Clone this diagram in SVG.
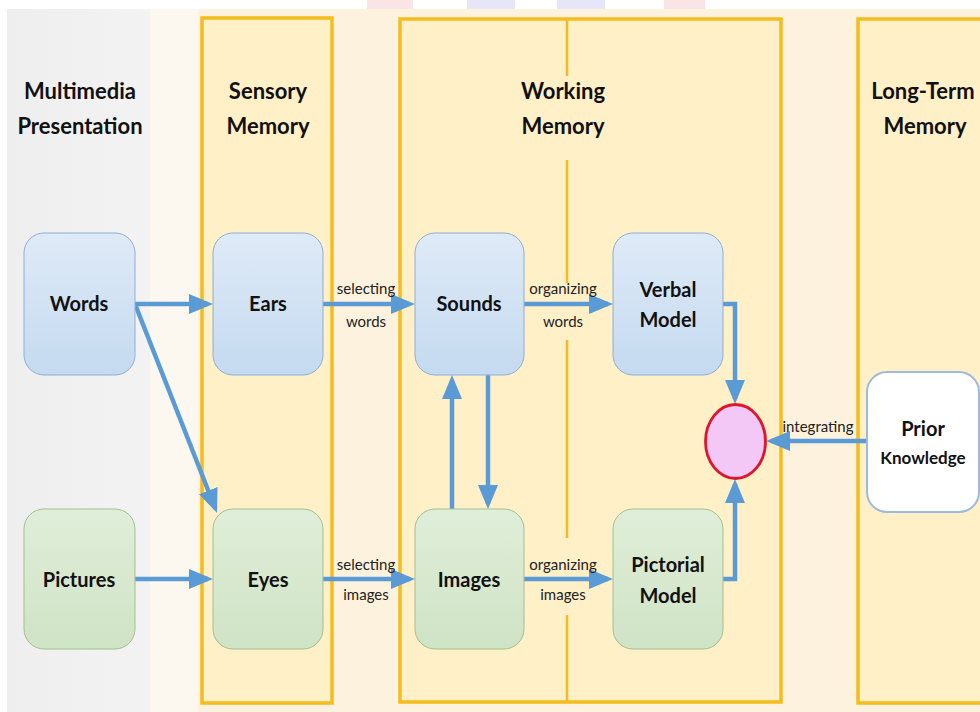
<svg xmlns="http://www.w3.org/2000/svg" width="980" height="712" viewBox="0 0 980 712">
<style>
.h{font-family:Lato,"Liberation Sans",sans-serif;font-weight:bold;font-size:22px;fill:#111;text-anchor:middle}
.n{font-family:Lato,"Liberation Sans",sans-serif;font-weight:bold;font-size:20px;fill:#111;text-anchor:middle}
.l{font-family:Lato,"Liberation Sans",sans-serif;font-size:15px;fill:#222;text-anchor:middle}
.col{fill:#fff0c8;stroke:#f4bc1c;stroke-width:3.5}
.blue{fill:url(#gb);stroke:#8eaed3;stroke-width:1}
.green{fill:url(#gg);stroke:#a3bf90;stroke-width:1}
.c{fill:none;stroke:#5b9bd5;stroke-width:4.5;marker-end:url(#ah)}
.div{stroke:#f4bc1c;stroke-width:2.5}
</style>
<defs>
<linearGradient id="gb" x1="0" y1="0" x2="0" y2="1"><stop offset="0" stop-color="#dfeaf7"/><stop offset="1" stop-color="#c4daf0"/></linearGradient>
<linearGradient id="gg" x1="0" y1="0" x2="0" y2="1"><stop offset="0" stop-color="#e0eed9"/><stop offset="1" stop-color="#cfe3c5"/></linearGradient>
<linearGradient id="gray" x1="0" y1="0" x2="1" y2="0"><stop offset="0" stop-color="#eeeeee"/><stop offset="1" stop-color="#f3f3f3"/></linearGradient>
<marker id="ah" markerUnits="userSpaceOnUse" markerWidth="24" markerHeight="20" refX="19" refY="10" orient="auto"><path d="M0,0 L24,10 L0,20 z" fill="#5b9bd5"/></marker>
</defs>
<g id="background">
<rect x="0" y="0" width="980" height="712" fill="#ffffff"/>
<rect x="150" y="9" width="830" height="703" fill="#fdf2de"/>
<rect x="150" y="9" width="48" height="703" fill="#fdf8ef"/>
<rect x="7" y="9" width="143" height="703" fill="url(#gray)"/>
<rect x="367" y="0" width="46" height="9" fill="#fae4e6"/>
<rect x="467" y="0" width="48" height="9" fill="#e6e6f8"/>
<rect x="557" y="0" width="48" height="9" fill="#e6e6f8"/>
<rect x="664" y="0" width="41" height="9" fill="#fae4e6"/>
</g>
<g id="columns">
<rect class="col" x="202" y="18" width="130" height="685"/>
<rect class="col" x="400" y="19" width="381" height="683"/>
<rect class="col" x="858" y="19" width="140" height="684"/>
<line class="div" x1="567" y1="19" x2="567" y2="76"/>
<line class="div" x1="567" y1="160" x2="567" y2="283"/>
<line class="div" x1="567" y1="340" x2="567" y2="538"/>
<line class="div" x1="567" y1="615" x2="567" y2="702"/>
</g>
<g id="headings">
<text class="h" x="80" y="99">Multimedia</text><text class="h" x="80" y="134">Presentation</text>
<text class="h" x="268" y="99">Sensory</text><text class="h" x="268" y="134">Memory</text>
<text class="h" x="563" y="99">Working</text><text class="h" x="563" y="134">Memory</text>
<text class="h" x="923" y="99">Long-Term</text><text class="h" x="925" y="134">Memory</text>
</g>
<g id="connectors">
<path class="c" d="M135,304 H208"/>
<path class="c" d="M135,304 L215.2,508.3"/>
<path class="c" d="M135,579 H208"/>
<path class="c" d="M323,304 H410"/>
<path class="c" d="M323,579 H410"/>
<path class="c" d="M524,304 H608"/>
<path class="c" d="M524,579 H608"/>
<path class="c" d="M452,509 V380"/>
<path class="c" d="M488,375 V504"/>
<path class="c" d="M723,304 H735 V399"/>
<path class="c" d="M723,579 H735 V484"/>
<path class="c" d="M867,441 H771"/>
<text class="l" x="366" y="294">selecting</text><text class="l" x="366" y="327">words</text>
<text class="l" x="563" y="294">organizing</text><text class="l" x="563" y="327">words</text>
<text class="l" x="366" y="570">selecting</text><text class="l" x="366" y="600">images</text>
<text class="l" x="563" y="570">organizing</text><text class="l" x="563" y="600">images</text>
<text class="l" x="818" y="432">integrating</text>
</g>
<g id="words"><rect class="blue" x="24" y="233" width="111" height="142" rx="20"/><text class="n" x="79" y="311">Words</text></g>
<g id="pictures"><rect class="green" x="24" y="509" width="111" height="140" rx="20"/><text class="n" x="79" y="587">Pictures</text></g>
<g id="ears"><rect class="blue" x="213" y="233" width="110" height="142" rx="20"/><text class="n" x="268" y="311">Ears</text></g>
<g id="eyes"><rect class="green" x="213" y="509" width="110" height="140" rx="20"/><text class="n" x="268" y="587">Eyes</text></g>
<g id="sounds"><rect class="blue" x="415" y="233" width="109" height="142" rx="20"/><text class="n" x="469" y="311">Sounds</text></g>
<g id="images"><rect class="green" x="415" y="509" width="109" height="140" rx="20"/><text class="n" x="469" y="587">Images</text></g>
<g id="verbal-model"><rect class="blue" x="613" y="233" width="110" height="142" rx="20"/><text class="n" x="668" y="297">Verbal</text><text class="n" x="668" y="327">Model</text></g>
<g id="pictorial-model"><rect class="green" x="613" y="509" width="110" height="140" rx="20"/><text class="n" x="668" y="572">Pictorial</text><text class="n" x="668" y="603">Model</text></g>
<g id="integration"><ellipse cx="735.5" cy="441.5" rx="30" ry="37" fill="#f4c8f6" stroke="#e0142c" stroke-width="2.8"/></g>
<g id="prior-knowledge"><rect x="867" y="372" width="112" height="140" rx="20" fill="#ffffff" stroke="#9db9dd" stroke-width="2"/><text class="n" x="923" y="436">Prior</text><text class="n" x="923" y="464" style="font-size:17px">Knowledge</text></g>
</svg>
